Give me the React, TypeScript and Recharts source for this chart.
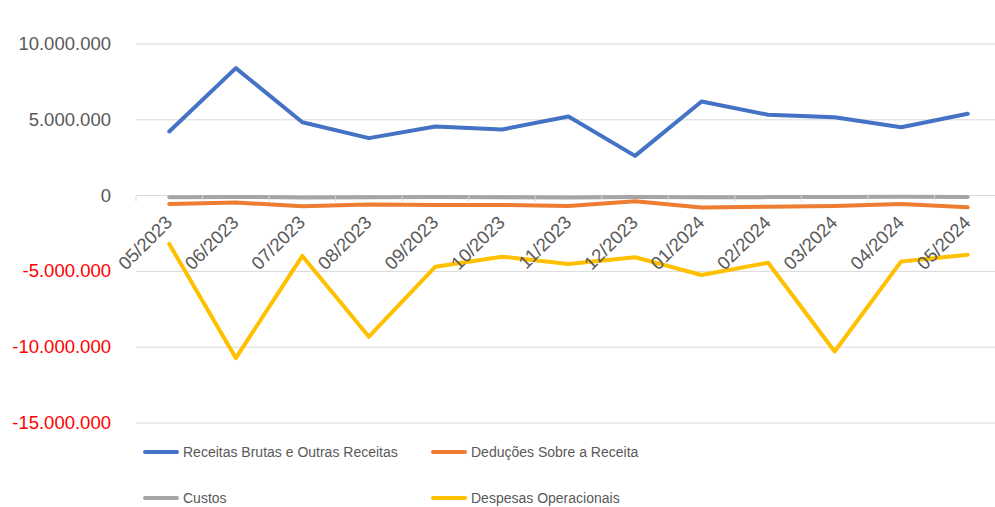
import React from 'react';
import { LineChart, Line, XAxis, YAxis, CartesianGrid, Legend } from 'recharts';

const categories = ['05/2023', '06/2023', '07/2023', '08/2023', '09/2023', '10/2023', '11/2023', '12/2023', '01/2024', '02/2024', '03/2024', '04/2024', '05/2024'];
const receitas = [4230000, 8410000, 4840000, 3790000, 4560000, 4360000, 5220000, 2620000, 6210000, 5330000, 5170000, 4510000, 5400000];
const deducoes = [-550000, -460000, -700000, -590000, -620000, -620000, -680000, -370000, -790000, -730000, -680000, -550000, -770000];
const custos = [-110000, -90000, -120000, -110000, -100000, -110000, -120000, -90000, -110000, -100000, -90000, -80000, -90000];
const despesas = [-3190000, -10720000, -3980000, -9310000, -4690000, -4030000, -4510000, -4070000, -5240000, -4430000, -10280000, -4340000, -3900000];
const yTicks = [-15000000, -10000000, -5000000, 0, 5000000, 10000000];
const seriesNames = ['Receitas Brutas e Outras Receitas', 'Deduções Sobre a Receita', 'Custos', 'Despesas Operacionais'];
const seriesColors = ['#4472C4', '#ED7D31', '#A5A5A5', '#FFC000'];
const seriesKeys = ['receitas', 'deducoes', 'custos', 'despesas'];

const data = categories.map((c, i) => ({
  cat: c,
  receitas: receitas[i],
  deducoes: deducoes[i],
  custos: custos[i],
  despesas: despesas[i],
}));

const FONT = '"Liberation Sans", Arial, sans-serif';
const CHART_W = 1010;
const CHART_H = 507;
const X_AXIS_H = 30;
const MARGIN = { top: 44, right: 9, bottom: 84 - X_AXIS_H, left: 0 };
const Y_MIN = yTicks[0];
const Y_MAX = yTicks[yTicks.length - 1];
const PLOT_H = CHART_H - MARGIN.top - MARGIN.bottom - X_AXIS_H;
const ZERO_Y = MARGIN.top + (PLOT_H * Y_MAX) / (Y_MAX - Y_MIN);
const PLOT_LEFT = 136;
const PLOT_W = CHART_W - MARGIN.right - PLOT_LEFT;
const BAND = PLOT_W / categories.length;

const fmt = (v: number) => {
  const s = Math.abs(v).toString().replace(/\B(?=(\d{3})+(?!\d))/g, '.');
  return v < 0 ? '-' + s : s;
};

const YTick = (props: any) => {
  const { x, y, payload } = props;
  const v = payload.value;
  return (
    <text x={x} y={y} dy={6} textAnchor="end" fontFamily={FONT} fontSize={18.5} fill={v < 0 ? '#FF0000' : '#595959'}>
      {fmt(v)}
    </text>
  );
};

const XTick = (props: any) => {
  const { x, payload, index } = props;
  const tx = x + 4;
  const ty = ZERO_Y + 28;
  return (
    <g>
      <line x1={x - BAND / 2} x2={x - BAND / 2} y1={ZERO_Y} y2={ZERO_Y + 6} stroke="#D9D9D9" strokeWidth={1} />
      {index === categories.length - 1 && (
        <line x1={x + BAND / 2} x2={x + BAND / 2} y1={ZERO_Y} y2={ZERO_Y + 6} stroke="#D9D9D9" strokeWidth={1} />
      )}
      <text x={tx} y={ty} textAnchor="end" transform={`rotate(-45, ${tx}, ${ty})`} fontFamily={FONT} fontSize={18.5} fill="#595959">
        {payload.value}
      </text>
    </g>
  );
};

const renderLegend = () => (
  <div style={{ display: 'grid', gridTemplateColumns: '288px 288px', gridAutoRows: '46px', paddingLeft: 143, fontFamily: FONT, fontSize: 14, color: '#595959' }}>
    {seriesNames.map((n, i) => (
      <div key={n} style={{ display: 'flex', alignItems: 'center' }}>
        <span style={{ display: 'inline-block', width: 36, height: 4, background: seriesColors[i], borderRadius: 2, marginRight: 4 }} />
        <span style={{ whiteSpace: 'nowrap' }}>{n}</span>
      </div>
    ))}
  </div>
);

export default function App() {
  return (
    <div style={{ position: 'absolute', left: 0, top: 0, width: 995, height: 507, overflow: 'hidden', background: '#fff' }}>
      <LineChart width={CHART_W} height={CHART_H} data={data} margin={MARGIN}>
        <CartesianGrid horizontal={true} vertical={false} stroke="#D9D9D9" strokeWidth={1} />
        <XAxis
          dataKey="cat"
          height={X_AXIS_H}
          axisLine={false}
          tickLine={false}
          interval={0}
          padding={{ left: BAND / 2, right: BAND / 2 }}
          tick={<XTick />}
        />
        <YAxis
          width={PLOT_LEFT}
          domain={[Y_MIN, Y_MAX]}
          ticks={yTicks}
          interval={0}
          axisLine={false}
          tickLine={false}
          tickSize={6}
          tickMargin={19}
          tick={<YTick />}
        />
        <Legend
          layout="horizontal"
          verticalAlign="middle"
          align="center"
          wrapperStyle={{ left: 0, top: 429, width: 995 }}
          content={renderLegend}
        />
        {seriesKeys.map((k, i) => (
          <Line
            key={k}
            type="linear"
            dataKey={k}
            name={seriesNames[i]}
            stroke={seriesColors[i]}
            strokeWidth={4}
            dot={false}
            activeDot={false}
            strokeLinejoin="round"
            strokeLinecap="round"
            isAnimationActive={false}
          />
        ))}
      </LineChart>
    </div>
  );
}
